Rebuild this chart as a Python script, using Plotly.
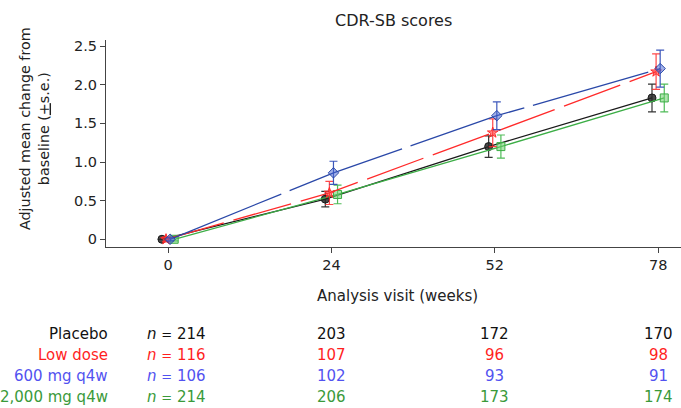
import plotly.graph_objects as go

weeks = ["0", "24", "52", "78"]
series_names = ["Placebo", "Low dose", "600 mg q4w", "2,000 mg q4w"]

placebo_mean = [0.0, 0.52, 1.20, 1.83]
placebo_se = [0.0, 0.10, 0.14, 0.18]
low_mean = [0.0, 0.60, 1.38, 2.17]
low_se = [0.03, 0.15, 0.18, 0.23]
q600_mean = [0.0, 0.86, 1.60, 2.21]
q600_se = [0.02, 0.15, 0.18, 0.24]
q2000_mean = [0.0, 0.58, 1.20, 1.83]
q2000_se = [0.02, 0.12, 0.15, 0.18]

n_placebo = [214, 203, 172, 170]
n_low = [116, 107, 96, 98]
n_600 = [106, 102, 93, 91]
n_2000 = [214, 206, 173, 174]

FONT = "DejaVu Sans"
d = 0.025
xi = list(range(len(weeks)))

specs = [
    ("Placebo", placebo_mean, placebo_se, -1.5, "#1a1a1a", "solid", "circle", "rgba(40,40,40,0.85)", "rgba(30,30,30,0.9)"),
    ("2,000 mg q4w", q2000_mean, q2000_se, 1.5, "#3cae46", "solid", "square", "rgba(110,205,110,0.55)", "rgba(60,180,70,0.9)"),
    ("Low dose", low_mean, low_se, -0.5, "#ff2a2a", "60px,10px", "star", "rgba(255,60,60,0.6)", "rgba(255,40,40,0.85)"),
    ("600 mg q4w", q600_mean, q600_se, 0.5, "#2a48a8", "120px,9px", "diamond", "rgba(70,100,210,0.5)", "rgba(40,70,180,0.9)"),
]

fig = go.Figure()
for name, mean, se, off, col, dash, sym, fill, ecol in specs:
    fig.add_trace(go.Scatter(
        x=[v + off * d for v in xi], y=mean, name=name,
        mode="lines+markers",
        line=dict(color=col, width=1.3, dash=dash),
        marker=dict(symbol=sym, size=8, color=fill, line=dict(color=col, width=1)),
        error_y=dict(type="data", array=se, visible=True, color=ecol, thickness=1.2, width=4),
        showlegend=False, cliponaxis=False,
    ))

fig.update_layout(
    width=681, height=408,
    margin=dict(l=106, r=0, t=40, b=161),
    plot_bgcolor="white", paper_bgcolor="white",
    font=dict(family=FONT, size=14, color="#222"),
    showlegend=False,
)
fig.update_xaxes(
    range=[-0.38, 3.14], tickmode="array", tickvals=xi, ticktext=weeks,
    showgrid=False, zeroline=False, showline=True, linecolor="#444", linewidth=1,
    ticks="outside", ticklen=5, tickcolor="#444", tickfont=dict(size=14.5, color="#222"),
)
fig.update_yaxes(
    range=[-0.1, 2.58], tickmode="array", tickvals=[0, 0.5, 1.0, 1.5, 2.0, 2.5],
    ticktext=["0", "0.5", "1.0", "1.5", "2.0", "2.5"],
    showgrid=False, zeroline=False, showline=True, linecolor="#444", linewidth=1,
    ticks="outside", ticklen=5, tickcolor="#444", tickfont=dict(size=14.5, color="#222"),
)

ann = []
ann.append(dict(text="CDR-SB scores", xref="paper", yref="paper", x=(393 - 106) / 575,
                y=(247 - 20) / 207, xanchor="center", yanchor="middle", showarrow=False,
                font=dict(size=16, color="#222")))
ann.append(dict(text="Analysis visit (weeks)", xref="paper", yref="paper", x=(397 - 106) / 575,
                y=(247 - 296) / 207, xanchor="center", yanchor="middle", showarrow=False,
                font=dict(size=15, color="#222")))
ann.append(dict(text="Adjusted mean change from<br>baseline (<u>+</u>s.e.)", xref="paper", yref="paper",
                x=(34 - 106) / 575, y=(247 - 129) / 207, xanchor="center", yanchor="middle",
                textangle=-90, showarrow=False, font=dict(size=14.3, color="#222")))

rows = [
    ("Placebo", n_placebo, "#111111"),
    ("Low dose", n_low, "#ff1f1f"),
    ("600 mg q4w", n_600, "#5252f0"),
    ("2,000 mg q4w", n_2000, "#3a9a3a"),
]
row_px = [334, 355, 376, 397]
TS = 15
for (label, ns, col), py in zip(rows, row_px):
    yp = (247 - py) / 207
    ann.append(dict(text=label, xref="paper", yref="paper", x=(110 - 106) / 575, y=yp,
                    xanchor="right", yanchor="middle", showarrow=False,
                    font=dict(size=TS, color=col)))
    ann.append(dict(text='<i>n</i> <span style="font-size:13px">=</span> %d' % ns[0],
                    xref="paper", yref="paper", x=(145 - 106) / 575, y=yp,
                    xanchor="left", yanchor="middle", showarrow=False,
                    font=dict(size=TS, color=col)))
    for i in range(1, len(ns)):
        ann.append(dict(text=str(ns[i]), xref="x", yref="paper", x=i, y=yp,
                        xanchor="center", yanchor="middle", showarrow=False,
                        font=dict(size=TS, color=col)))
fig.update_layout(annotations=ann)

fig.write_html("out.html")
